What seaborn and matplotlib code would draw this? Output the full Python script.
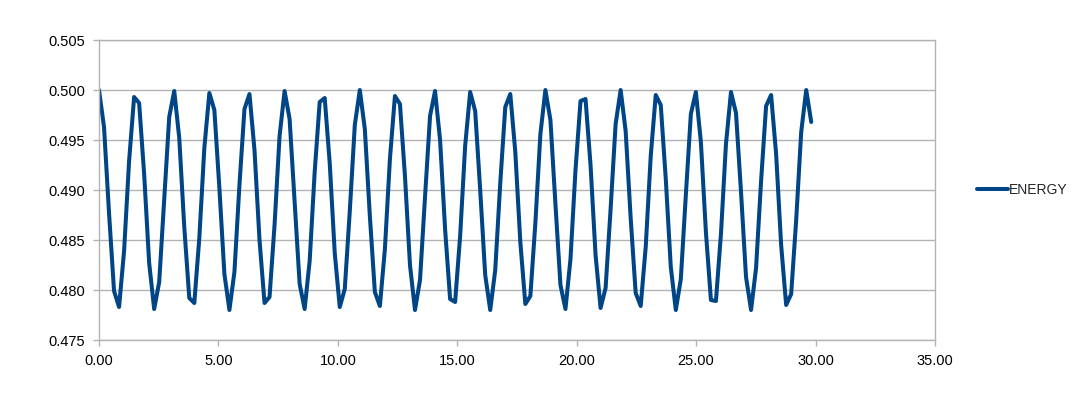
import matplotlib
matplotlib.use('Agg')
import matplotlib.pyplot as plt
import seaborn as sns
from matplotlib.ticker import FormatStrFormatter, MultipleLocator

# sample times (x) and energy values
time = [
    0.00, 0.21, 0.42, 0.63, 0.84, 1.05, 1.26, 1.47, 1.68, 1.89,
    2.10, 2.31, 2.52, 2.73, 2.94, 3.15, 3.36, 3.57, 3.78, 3.99,
    4.20, 4.41, 4.62, 4.83, 5.04, 5.25, 5.46, 5.67, 5.88, 6.09,
    6.30, 6.51, 6.72, 6.93, 7.14, 7.35, 7.56, 7.77, 7.98, 8.19,
    8.40, 8.61, 8.82, 9.03, 9.24, 9.45, 9.66, 9.87, 10.08, 10.29,
    10.50, 10.71, 10.92, 11.13, 11.34, 11.55, 11.76, 11.97, 12.18, 12.39,
    12.60, 12.81, 13.02, 13.23, 13.44, 13.65, 13.86, 14.07, 14.28, 14.49,
    14.70, 14.91, 15.12, 15.33, 15.54, 15.75, 15.96, 16.17, 16.38, 16.59,
    16.80, 17.01, 17.22, 17.43, 17.64, 17.85, 18.06, 18.27, 18.48, 18.69,
    18.90, 19.11, 19.32, 19.53, 19.74, 19.95, 20.16, 20.37, 20.58, 20.79,
    21.00, 21.21, 21.42, 21.63, 21.84, 22.05, 22.26, 22.47, 22.68, 22.89,
    23.10, 23.31, 23.52, 23.73, 23.94, 24.15, 24.36, 24.57, 24.78, 24.99,
    25.20, 25.41, 25.62, 25.83, 26.04, 26.25, 26.46, 26.67, 26.88, 27.09,
    27.30, 27.51, 27.72, 27.93, 28.14, 28.35, 28.56, 28.77, 28.98, 29.19,
    29.40, 29.61, 29.82,
]
energy = [
    0.5000, 0.4963, 0.4877, 0.4799, 0.4783, 0.4839, 0.4929, 0.4993, 0.4987, 0.4916,
    0.4827, 0.4781, 0.4808, 0.4891, 0.4973, 0.4999, 0.4952, 0.4863, 0.4792, 0.4787,
    0.4852, 0.4942, 0.4997, 0.4980, 0.4902, 0.4816, 0.4780, 0.4818, 0.4905, 0.4981,
    0.4996, 0.4940, 0.4850, 0.4787, 0.4793, 0.4865, 0.4954, 0.4999, 0.4971, 0.4888,
    0.4806, 0.4781, 0.4829, 0.4918, 0.4988, 0.4992, 0.4927, 0.4837, 0.4783, 0.4801,
    0.4879, 0.4965, 0.5000, 0.4961, 0.4874, 0.4798, 0.4784, 0.4841, 0.4931, 0.4994,
    0.4986, 0.4914, 0.4825, 0.4780, 0.4810, 0.4893, 0.4974, 0.4999, 0.4950, 0.4861,
    0.4791, 0.4788, 0.4854, 0.4944, 0.4998, 0.4979, 0.4900, 0.4815, 0.4780, 0.4820,
    0.4907, 0.4983, 0.4996, 0.4938, 0.4848, 0.4786, 0.4794, 0.4867, 0.4956, 0.5000,
    0.4970, 0.4886, 0.4805, 0.4781, 0.4831, 0.4920, 0.4989, 0.4991, 0.4925, 0.4835,
    0.4782, 0.4802, 0.4881, 0.4966, 0.5000, 0.4959, 0.4872, 0.4797, 0.4784, 0.4843,
    0.4934, 0.4995, 0.4985, 0.4911, 0.4823, 0.4780, 0.4811, 0.4895, 0.4976, 0.4998,
    0.4948, 0.4858, 0.4790, 0.4789, 0.4856, 0.4946, 0.4998, 0.4977, 0.4898, 0.4813,
    0.4780, 0.4822, 0.4909, 0.4984, 0.4995, 0.4936, 0.4845, 0.4785, 0.4796, 0.4870,
    0.4958, 0.5000, 0.4968,
]
series_name = 'ENERGY'

sns.set_style('white')
plt.rcParams['font.family'] = ['Liberation Sans', 'DejaVu Sans']

grey = '#b3b3b3'
fig = plt.figure(figsize=(10.82, 4.03), dpi=100)
ax = fig.add_axes([0.0915, 0.1563, 0.7726, 0.7444])

sns.lineplot(x=time, y=energy, ax=ax, color='#004586', linewidth=2.9,
             label=series_name, legend=False, sort=False)

ax.set_xlim(0, 35)
ax.set_ylim(0.475, 0.505)
ax.xaxis.set_major_locator(MultipleLocator(5))
ax.yaxis.set_major_locator(MultipleLocator(0.005))
ax.xaxis.set_major_formatter(FormatStrFormatter('%.2f'))
ax.yaxis.set_major_formatter(FormatStrFormatter('%.3f'))
ax.yaxis.grid(True, color=grey, linewidth=1)
ax.xaxis.grid(False)
ax.set_axisbelow(True)
for s in ax.spines.values():
    s.set_color(grey)
    s.set_linewidth(1)
ax.tick_params(axis='both', direction='out', length=4, width=1, color=grey,
               labelsize=10.5, labelcolor='black', pad=6)
ax.tick_params(axis='y', left=True)
ax.tick_params(axis='x', bottom=True)
ax.set_xlabel('')
ax.set_ylabel('')

handles, labels = ax.get_legend_handles_labels()
fig.legend(handles, labels, loc='center left', bbox_to_anchor=(0.903, 0.5285),
           frameon=False, fontsize=10, handlelength=2.2, handletextpad=0.1,
           borderpad=0, borderaxespad=0)

fig.savefig('out.png', dpi=100)
